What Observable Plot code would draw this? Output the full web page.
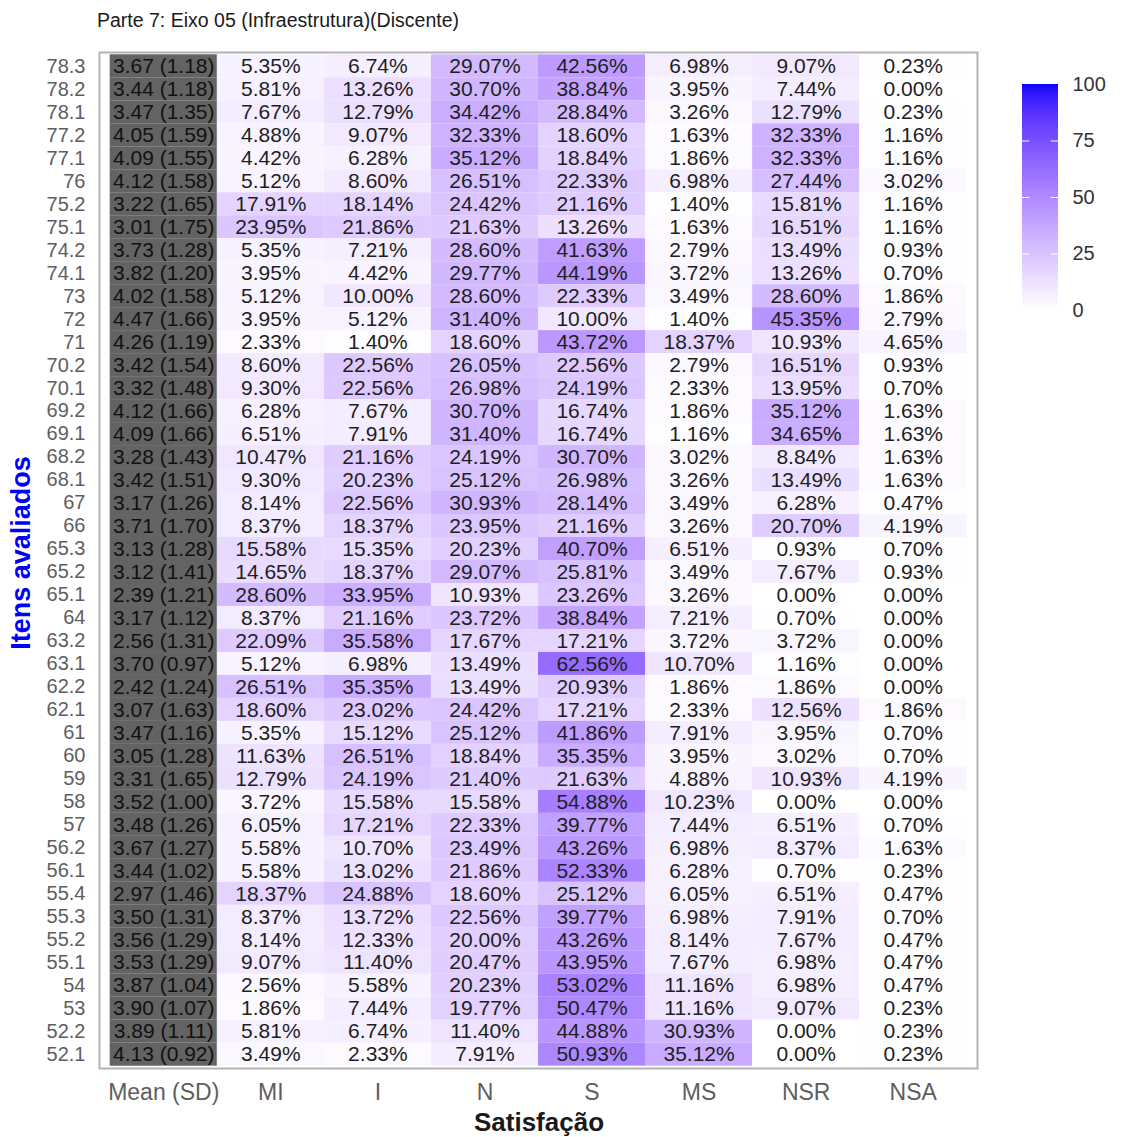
<!DOCTYPE html>
<html>
<head>
<meta charset="utf-8">
<script src="https://cdn.jsdelivr.net/npm/d3@7"></script>
<script src="https://cdn.jsdelivr.net/npm/@observablehq/plot@0.6"></script>
<style>
  html, body { margin: 0; padding: 0; background: #fff; }
  #wrap { position: relative; width: 1124px; height: 1137px; font-family: "Liberation Sans", Arial, sans-serif; overflow: hidden; background: #fff; }
  #title { position: absolute; left: 97px; top: 11px; font-size: 19.5px; line-height: 1; color: #1a1a1a; white-space: nowrap; z-index: 2; }
  #ylab { position: absolute; left: 21px; top: 553px; transform: translate(-50%, -50%) rotate(-90deg); font-size: 27px; font-weight: bold; color: #0000ff; white-space: nowrap; z-index: 2; line-height: 1; }
  #xlab { position: absolute; left: 539px; top: 1109px; transform: translateX(-50%); font-size: 26px; font-weight: bold; color: #1a1a1a; white-space: nowrap; line-height: 1; z-index: 2; }
  #main { position: absolute; left: 0; top: 40px; z-index: 1; }
  #legend { position: absolute; left: 1015px; top: 72px; z-index: 1; }
</style>
</head>
<body>
<div id="wrap">
  <div id="main"></div>
  <div id="legend"></div>
  <div id="title">Parte 7: Eixo 05 (Infraestrutura)(Discente)</div>
  <div id="ylab">Itens avaliados</div>
  <div id="xlab">Satisfação</div>
</div>
<script>
const items = ["78.3","78.2","78.1","77.2","77.1","76","75.2","75.1","74.2","74.1","73","72","71","70.2","70.1","69.2","69.1","68.2","68.1","67","66","65.3","65.2","65.1","64","63.2","63.1","62.2","62.1","61","60","59","58","57","56.2","56.1","55.4","55.3","55.2","55.1","54","53","52.2","52.1"];

const meanSD = ["3.67 (1.18)","3.44 (1.18)","3.47 (1.35)","4.05 (1.59)","4.09 (1.55)","4.12 (1.58)","3.22 (1.65)","3.01 (1.75)","3.73 (1.28)","3.82 (1.20)","4.02 (1.58)","4.47 (1.66)","4.26 (1.19)","3.42 (1.54)","3.32 (1.48)","4.12 (1.66)","4.09 (1.66)","3.28 (1.43)","3.42 (1.51)","3.17 (1.26)","3.71 (1.70)","3.13 (1.28)","3.12 (1.41)","2.39 (1.21)","3.17 (1.12)","2.56 (1.31)","3.70 (0.97)","2.42 (1.24)","3.07 (1.63)","3.47 (1.16)","3.05 (1.28)","3.31 (1.65)","3.52 (1.00)","3.48 (1.26)","3.67 (1.27)","3.44 (1.02)","2.97 (1.46)","3.50 (1.31)","3.56 (1.29)","3.53 (1.29)","3.87 (1.04)","3.90 (1.07)","3.89 (1.11)","4.13 (0.92)"];

const MI  = [5.35,5.81,7.67,4.88,4.42,5.12,17.91,23.95,5.35,3.95,5.12,3.95,2.33,8.60,9.30,6.28,6.51,10.47,9.30,8.14,8.37,15.58,14.65,28.60,8.37,22.09,5.12,26.51,18.60,5.35,11.63,12.79,3.72,6.05,5.58,5.58,18.37,8.37,8.14,9.07,2.56,1.86,5.81,3.49];
const I   = [6.74,13.26,12.79,9.07,6.28,8.60,18.14,21.86,7.21,4.42,10.00,5.12,1.40,22.56,22.56,7.67,7.91,21.16,20.23,22.56,18.37,15.35,18.37,33.95,21.16,35.58,6.98,35.35,23.02,15.12,26.51,24.19,15.58,17.21,10.70,13.02,24.88,13.72,12.33,11.40,5.58,7.44,6.74,2.33];
const N   = [29.07,30.70,34.42,32.33,35.12,26.51,24.42,21.63,28.60,29.77,28.60,31.40,18.60,26.05,26.98,30.70,31.40,24.19,25.12,30.93,23.95,20.23,29.07,10.93,23.72,17.67,13.49,13.49,24.42,25.12,18.84,21.40,15.58,22.33,23.49,21.86,18.60,22.56,20.00,20.47,20.23,19.77,11.40,7.91];
const S   = [42.56,38.84,28.84,18.60,18.84,22.33,21.16,13.26,41.63,44.19,22.33,10.00,43.72,22.56,24.19,16.74,16.74,30.70,26.98,28.14,21.16,40.70,25.81,23.26,38.84,17.21,62.56,20.93,17.21,41.86,35.35,21.63,54.88,39.77,43.26,52.33,25.12,39.77,43.26,43.95,53.02,50.47,44.88,50.93];
const MS  = [6.98,3.95,3.26,1.63,1.86,6.98,1.40,1.63,2.79,3.72,3.49,1.40,18.37,2.79,2.33,1.86,1.16,3.02,3.26,3.49,3.26,6.51,3.49,3.26,7.21,3.72,10.70,1.86,2.33,7.91,3.95,4.88,10.23,7.44,6.98,6.28,6.05,6.98,8.14,7.67,11.16,11.16,30.93,35.12];
const NSR = [9.07,7.44,12.79,32.33,32.33,27.44,15.81,16.51,13.49,13.26,28.60,45.35,10.93,16.51,13.95,35.12,34.65,8.84,13.49,6.28,20.70,0.93,7.67,0.00,0.70,3.72,1.16,1.86,12.56,3.95,3.02,10.93,0.00,6.51,8.37,0.70,6.51,7.91,7.67,6.98,6.98,9.07,0.00,0.00];
const NSA = [0.23,0.00,0.23,1.16,1.16,3.02,1.16,1.16,0.93,0.70,1.86,2.79,4.65,0.93,0.70,1.63,1.63,1.63,1.63,0.47,4.19,0.70,0.93,0.00,0.00,0.00,0.00,0.00,1.86,0.70,0.70,4.19,0.00,0.70,1.63,0.23,0.47,0.70,0.47,0.47,0.47,0.23,0.23,0.23];

const columns = ["Mean (SD)","MI","I","N","S","MS","NSR","NSA"];
const legendTicks = [0, 25, 50, 75, 100];

const series = [MI, I, N, S, MS, NSR, NSA];
const pct = columns.slice(1).flatMap((c, j) => series[j].map((v, i) => ({item: items[i], col: c, value: v})));
const meanData = items.map((it, i) => ({item: it, col: columns[0], label: meanSD[i]}));

const colorScale = {type: "linear", domain: [0, 100], range: ["white", "blue"], interpolate: "lab"};
const font = "'Liberation Sans', Arial, sans-serif";

const main = Plot.plot({
  width: 1000,
  height: 1097,
  marginLeft: 99,
  marginRight: 23,
  marginTop: 12,
  marginBottom: 69,
  style: {fontFamily: font, background: "white", color: "#5e5e5e"},
  x: {type: "band", domain: columns, paddingInner: 0, paddingOuter: 0.1, round: false},
  y: {type: "band", domain: items, paddingInner: 0, paddingOuter: 0.1, round: false},
  color: colorScale,
  marks: [
    Plot.cell(pct, {x: "col", y: "item", fill: "value", inset: 0}),
    Plot.cell(meanData, {x: "col", y: "item", fill: "#636363", inset: 0}),
    Plot.text(pct, {x: "col", y: "item", text: d => d.value.toFixed(2) + "%", fontSize: 21, fill: "#1e1e1e"}),
    Plot.text(meanData, {x: "col", y: "item", text: "label", fontSize: 21, fill: "#111"}),
    Plot.frame({stroke: "#b3b3b3", strokeWidth: 2}),
    Plot.axisX({tickSize: 0, tickPadding: 15, fontSize: 23, label: null}),
    Plot.axisY({tickSize: 0, tickPadding: 14, fontSize: 20, label: null})
  ]
});
document.getElementById("main").appendChild(main);

const stops = d3.range(0, 100, 0.5);
const legend = Plot.plot({
  width: 100,
  height: 250,
  marginLeft: 7,
  marginRight: 57,
  marginTop: 12,
  marginBottom: 12,
  style: {fontFamily: font, background: "transparent", color: "#333"},
  x: {domain: [0, 1], axis: null},
  y: {domain: [0, 100]},
  color: colorScale,
  marks: [
    Plot.rect(stops, {x1: 0, x2: 1, y1: d => d, y2: d => Math.min(100, d + 1), fill: d => d + 0.25, shapeRendering: "crispEdges"}),
    Plot.ruleY(legendTicks.slice(1, 4), {x1: 0, x2: 0.2, stroke: "white", strokeWidth: 1}),
    Plot.ruleY(legendTicks.slice(1, 4), {x1: 0.8, x2: 1, stroke: "white", strokeWidth: 1}),
    Plot.axisY({anchor: "right", ticks: legendTicks, tickSize: 0, tickPadding: 14, fontSize: 20, label: null})
  ]
});
document.getElementById("legend").appendChild(legend);
</script>
</body>
</html>
